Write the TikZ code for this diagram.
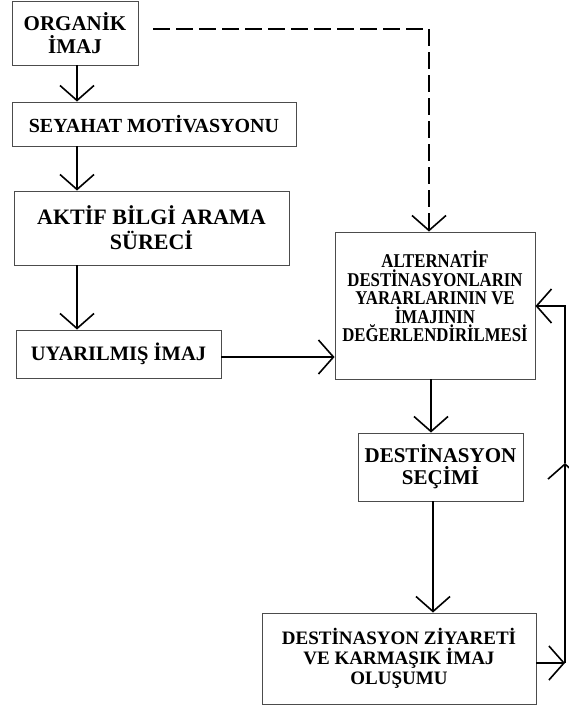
\documentclass[tikz,border=0pt]{standalone}
\usepackage{fontspec}
\setmainfont{Liberation Serif}
\newfontfamily\condser[FakeStretch=0.86]{Liberation Serif}
\usetikzlibrary{arrows.meta}
\begin{document}
\begin{tikzpicture}[x=1pt,y=-1pt,
  box/.style={draw=black!70, line width=0.9pt, align=center, inner sep=0pt, text=black},
  arr/.style={line width=1.6pt, -{Straight Barb[length=15pt,width=34pt]}},
  dsh/.style={line width=1.6pt, dash pattern=on 17pt off 6pt},
]
\useasboundingbox (0,0) rectangle (569,707);
\node[box, minimum width=126pt, minimum height=64pt, font=\bfseries\fontsize{21}{23}\selectfont] (org) at (75,33) {ORGANİK\\İMAJ};
\node[box, minimum width=284pt, minimum height=44pt, font=\bfseries\fontsize{20}{22}\selectfont] (sey) at (154,124) {SEYAHAT MOTİVASYONU};
\node[box, minimum width=275pt, minimum height=74pt, font=\bfseries\fontsize{22}{25}\selectfont] (akt) at (151.5,228) {AKTİF BİLGİ ARAMA\\SÜRECİ};
\node[box, minimum width=205pt, minimum height=48pt, font=\bfseries\fontsize{20.5}{22}\selectfont] (uya) at (118.5,354) {UYARILMIŞ İMAJ};
\node[box, minimum width=200pt, minimum height=147pt] (alt) at (435,305.5) {};
\node[align=center, inner sep=0pt, text=black, font=\condser\bfseries\fontsize{19.5}{18.5}\selectfont] (altt) at ([yshift=9pt]alt.center) {ALTERNATİF\\DESTİNASYONLARIN\\YARARLARININ VE\\İMAJININ\\DEĞERLENDİRİLMESİ};
\node[box, minimum width=165pt, minimum height=68pt, font=\bfseries\fontsize{21}{22}\selectfont] (sec) at (440.5,467) {DESTİNASYON\\SEÇİMİ};
\node[box, minimum width=274pt, minimum height=91pt, font=\bfseries\fontsize{19}{20}\selectfont] (ziy) at (399,658.5) {DESTİNASYON ZİYARETİ\\VE KARMAŞIK İMAJ\\OLUŞUMU};

\coordinate (cx) at (77,0);
\draw[arr] (cx |- org.south) -- (cx |- sey.north);
\draw[arr] (cx |- sey.south) -- (cx |- akt.north);
\draw[arr] (cx |- akt.south) -- (cx |- uya.north);
\coordinate (hy) at (0,357);
\draw[arr] (uya.east |- hy) -- (alt.west |- hy);

\coordinate (dc) at (429,29);
\coordinate (ds) at ([xshift=15pt]org.east |- dc);
\draw[dsh] (ds) -- (dc);
\draw[dsh, -{Straight Barb[length=15pt,width=34pt]}] (dc) -- (dc |- alt.north);

\coordinate (vx1) at (431,0);
\draw[arr] (vx1 |- alt.south) -- (vx1 |- sec.north);
\coordinate (vx2) at (433,0);
\draw[arr] (vx2 |- sec.south) -- (vx2 |- ziy.north);

\coordinate (fc) at (565,663);
\coordinate (fm) at (565,463);
\coordinate (ft) at (565,306);
\draw[arr] (ziy.east |- fc) -- (fc);
\draw[arr] (fc) -- (fm);
\draw[arr] (fm) -- (ft) -- (alt.east |- ft);
\end{tikzpicture}
\end{document}
